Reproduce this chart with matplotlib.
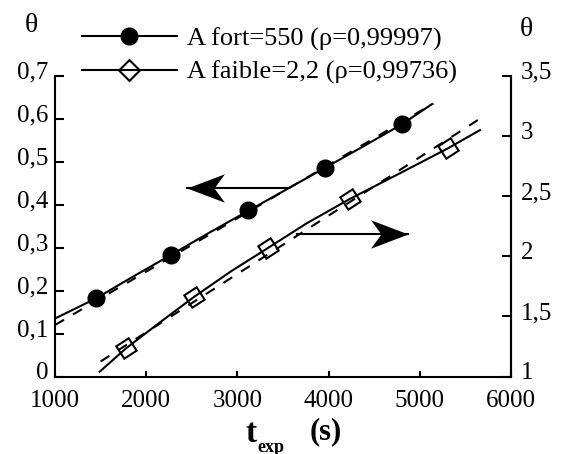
import matplotlib
matplotlib.use('Agg')
import matplotlib.pyplot as plt
from matplotlib.lines import Line2D
from matplotlib.path import Path
from matplotlib.transforms import ScaledTranslation

plt.rcParams['font.family'] = ['Liberation Serif', 'DejaVu Serif']

# points mesurés
t_fort = [1450, 2270, 3120, 3960, 4800]
theta_fort = [0.182, 0.284, 0.387, 0.486, 0.588]
t_faible = [1778, 2524, 3339, 4235, 5313]
theta_faible = [1.234, 1.662, 2.071, 2.478, 2.900]

# courbes du modèle (trait plein)
t_fort_mod = [1000, 1450, 1850, 2270, 2700, 3120, 3540, 3960, 4380, 4800, 5130]
theta_fort_mod = [0.135, 0.182, 0.232, 0.283, 0.336, 0.386, 0.436, 0.486, 0.536, 0.587, 0.634]
t_faible_mod = [1490, 1778, 2150, 2524, 2930, 3339, 3750, 4235, 4780, 5313, 5660]
theta_faible_mod = [1.04, 1.234, 1.45, 1.662, 1.875, 2.071, 2.27, 2.478, 2.69, 2.90, 3.05]

# droites de régression (tirets)
t_fort_fit = [1000, 5150]
theta_fort_fit = [0.12, 0.636]
t_faible_fit = [1500, 5650]
theta_faible_fit = [1.125, 3.14]

x_ticks = [1000, 2000, 3000, 4000, 5000, 6000]
left_ticks = [0, 0.1, 0.2, 0.3, 0.4, 0.5, 0.6, 0.7]
left_labels = ['0', '0,1', '0,2', '0,3', '0,4', '0,5', '0,6', '0,7']
right_ticks = [1, 1.5, 2, 2.5, 3, 3.5]
right_labels = ['1', '1,5', '2', '2,5', '3', '3,5']

lab_fort = 'A fort=550 (ρ=0,99997)'
lab_faible = 'A faible=2,2 (ρ=0,99736)'

fig = plt.figure(figsize=(5.63, 4.54), dpi=100)
ax = fig.add_axes([0.0977, 0.1707, 0.8099, 0.6619])
ax2 = ax.twinx()

lw = 1.5
ax.plot(t_fort_mod, theta_fort_mod, color='black', lw=lw)
ax.plot(t_fort_fit, theta_fort_fit, color='black', lw=lw, dashes=(5, 5))
ax.plot(t_fort, theta_fort, 'o', color='black', ms=12)

ax2.plot(t_faible_mod, theta_faible_mod, color='black', lw=lw)
ax2.plot(t_faible_fit, theta_faible_fit, color='black', lw=lw, dashes=(5, 5))
ax2.plot(t_faible, theta_faible, ls='none', marker=(4, 0, -12), ms=15,
         mfc='none', mec='black', mew=1.5)

ax.set_xlim(1000, 6000)
ax.set_ylim(0, 0.7)
ax2.set_ylim(1, 3.5)
ax.set_xticks(x_ticks)
ax.set_xticklabels([str(x) for x in x_ticks])
ax.set_yticks(left_ticks)
ax.set_yticklabels(left_labels)
ax2.set_yticks(right_ticks)
ax2.set_yticklabels(right_labels)

for a in (ax, ax2):
    a.spines['top'].set_visible(False)
    for s in a.spines.values():
        s.set_linewidth(1.5)
ax2.spines['left'].set_visible(False)
ax2.spines['bottom'].set_visible(False)

ax.tick_params(axis='x', direction='in', length=4.5, width=1.5, labelsize=18, pad=10)
ax.tick_params(axis='y', direction='in', length=6.5, width=1.5, labelsize=18, pad=5)
ax2.tick_params(axis='y', direction='in', length=6.5, width=1.5, labelsize=18, pad=7)

# étiquettes un peu au-dessus des graduations
up = ScaledTranslation(0, 4 / 72, fig.dpi_scale_trans)
for lab in ax.get_yticklabels() + ax2.get_yticklabels():
    lab.set_transform(lab.get_transform() + up)

# flèches : tige + pointe à barbes rentrantes
head_r = Path([(0, 0), (-1, 0.38), (-0.72, 0), (-1, -0.38), (0, 0)],
              [Path.MOVETO, Path.LINETO, Path.LINETO, Path.LINETO, Path.CLOSEPOLY])
head_l = Path([(0, 0), (1, 0.38), (0.72, 0), (1, -0.38), (0, 0)],
              [Path.MOVETO, Path.LINETO, Path.LINETO, Path.LINETO, Path.CLOSEPOLY])
arrow_l_t = [3544, 2450]
arrow_l_y = [0.44, 0.44]
arrow_r_t = [3654, 4871]
arrow_r_y = [0.333, 0.333]
ax.plot(arrow_l_t, arrow_l_y, color='black', lw=1.5)
ax.plot(arrow_l_t[1:], arrow_l_y[1:], ls='none', marker=head_l, ms=54, color='black', mew=0)
ax.plot(arrow_r_t, arrow_r_y, color='black', lw=1.5)
ax.plot(arrow_r_t[1:], arrow_r_y[1:], ls='none', marker=head_r, ms=54, color='black', mew=0)

# légende
h1 = Line2D([], [], color='black', lw=lw, marker='o', ms=12)
h2 = Line2D([], [], color='black', lw=lw, marker=(4, 0, 0), ms=15, mfc='none', mew=1.5)
fig.legend([h1, h2], [lab_fort, lab_faible], loc='upper left',
           bbox_to_anchor=(0.112, 0.982), frameon=False, fontsize=19,
           handlelength=3.6, handletextpad=0.4, labelspacing=0.38, borderaxespad=0.3)

fig.text(31.7 / 563, 1 - 25 / 454, 'θ', fontsize=20, ha='center', va='center')
fig.text(526.7 / 563, 1 - 30 / 454, 'θ', fontsize=20, ha='center', va='center')

# titre de l'axe x
fig.text(251 / 563, 1 - 433 / 454, 't', fontsize=24, fontweight='bold', ha='center', va='center')
fig.text(271 / 563, 1 - 447 / 454, 'exp', fontsize=13, fontweight='bold', ha='center', va='center')
fig.text(326 / 563, 1 - 432 / 454, '(s)', fontsize=22, fontweight='bold', ha='center', va='center')

fig.savefig('out.png', dpi=100)
